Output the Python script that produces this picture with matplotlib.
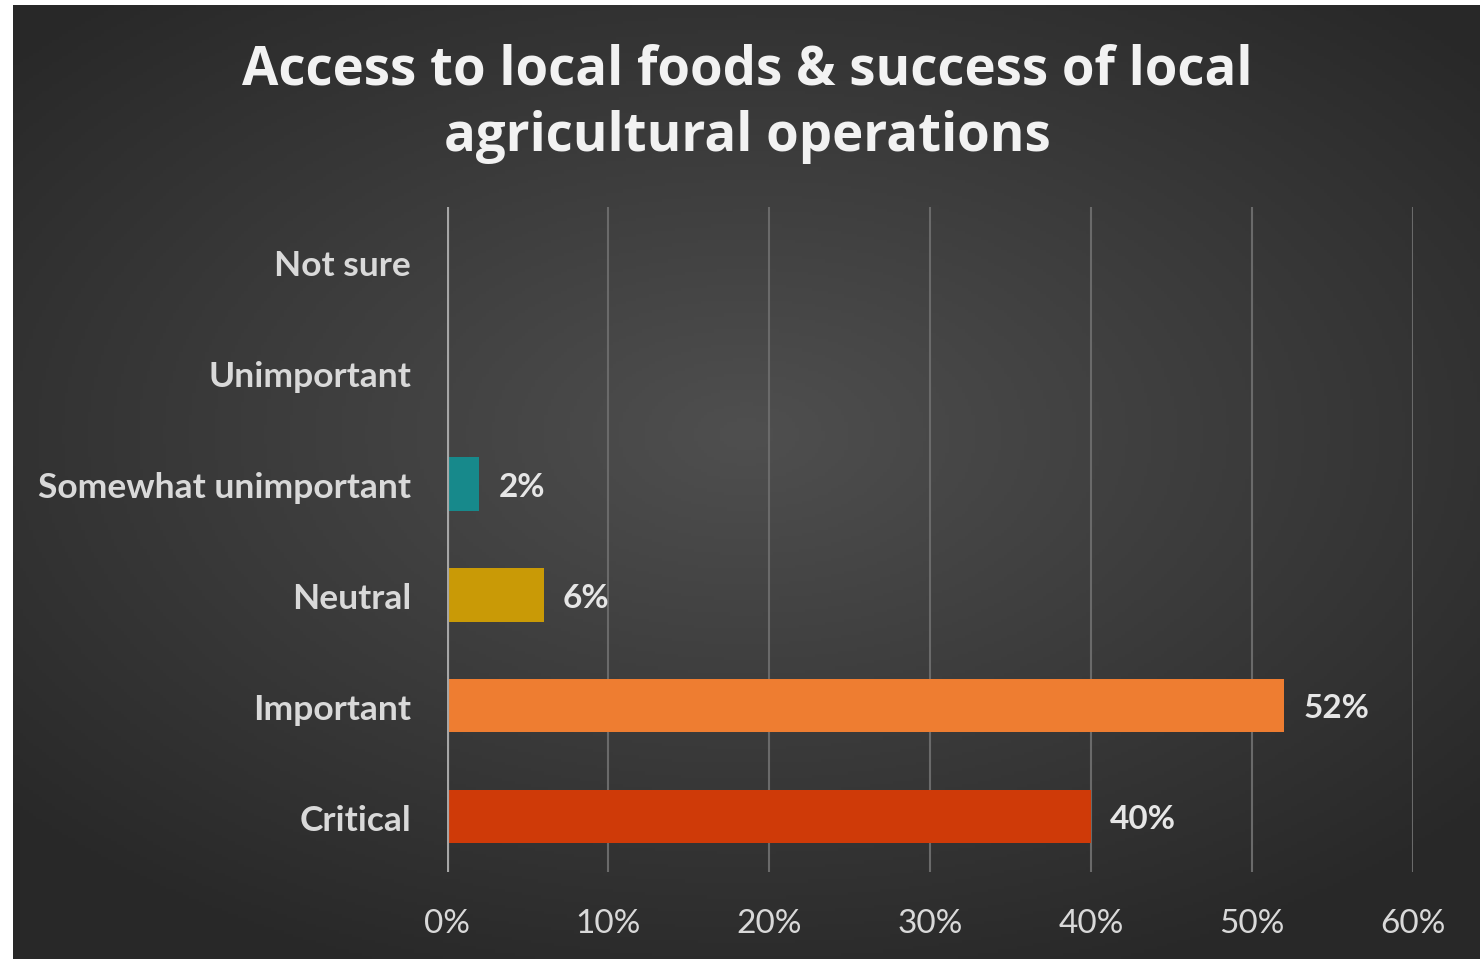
import numpy as np
import matplotlib.pyplot as plt
from matplotlib.ticker import PercentFormatter

# Survey data
categories = ["Not sure", "Unimportant", "Somewhat unimportant", "Neutral", "Important", "Critical"]
values = [0, 0, 2, 6, 52, 40]
bar_colors = ["#7f7f7f", "#7f7f7f", "#17898b", "#c99a06", "#ee7d31", "#cf3a08"]
x_ticks = [0, 10, 20, 30, 40, 50, 60]

plt.rcParams["font.family"] = ["Lato", "DejaVu Sans"]

fig = plt.figure(figsize=(14.8, 9.62), dpi=100)
fig.patch.set_facecolor("white")

# Dark panel with a soft radial glow
bg = fig.add_axes([13 / 1480, 1 - 960 / 962, 1 - 13 / 1480, (960 - 6) / 962])
yy, xx = np.mgrid[-1:1:300j, -1:1:450j]
r = np.sqrt((xx / 1.1) ** 2 + ((yy + 0.1) / 1.0) ** 2)
shade = 0.31 - 0.15 * np.clip(r, 0, 1.2) / 1.2
bg.imshow(np.dstack([shade] * 3), aspect="auto", extent=[0, 1, 0, 1])
bg.set_axis_off()

ax = fig.add_axes([447 / 1480, 1 - 873 / 962, (1413 - 447) / 1480, (873 - 208) / 962])
ax.set_facecolor("none")

y = np.arange(len(categories))
ax.barh(y, values, height=0.48, color=bar_colors, zorder=3)
ax.set_ylim(len(categories) - 0.5, -0.5)
ax.set_xlim(0, 60)

for yi, v in zip(y, values):
    if v > 0:
        ax.text(v + 1.2, yi + 0.02, f"{v}%", va="center", ha="left", fontsize=24,
                fontweight="bold", color="#e6e6e6")

ax.set_yticks(y)
ax.set_yticklabels(categories, fontsize=25.5, fontweight="bold", color="#d9d9d9")
ax.set_xticks(x_ticks)
ax.xaxis.set_major_formatter(PercentFormatter(decimals=0))
ax.tick_params(axis="x", labelsize=24, colors="#d9d9d9", length=0, pad=26)
ax.tick_params(axis="y", length=0, pad=26)

ax.grid(axis="x", color="#6a6a6a", linewidth=1.5, zorder=0)
ax.axvline(0, color="#a6a6a6", linewidth=3, zorder=4)
for s in ax.spines.values():
    s.set_visible(False)

fig.text(0.505, 0.8925, "Access to local foods & success of local\nagricultural operations",
         ha="center", va="center", fontsize=38, fontweight="bold", color="#f2f2f2",
         linespacing=1.3, family=["Open Sans", "DejaVu Sans"])

plt.savefig("out.png", dpi=100)
